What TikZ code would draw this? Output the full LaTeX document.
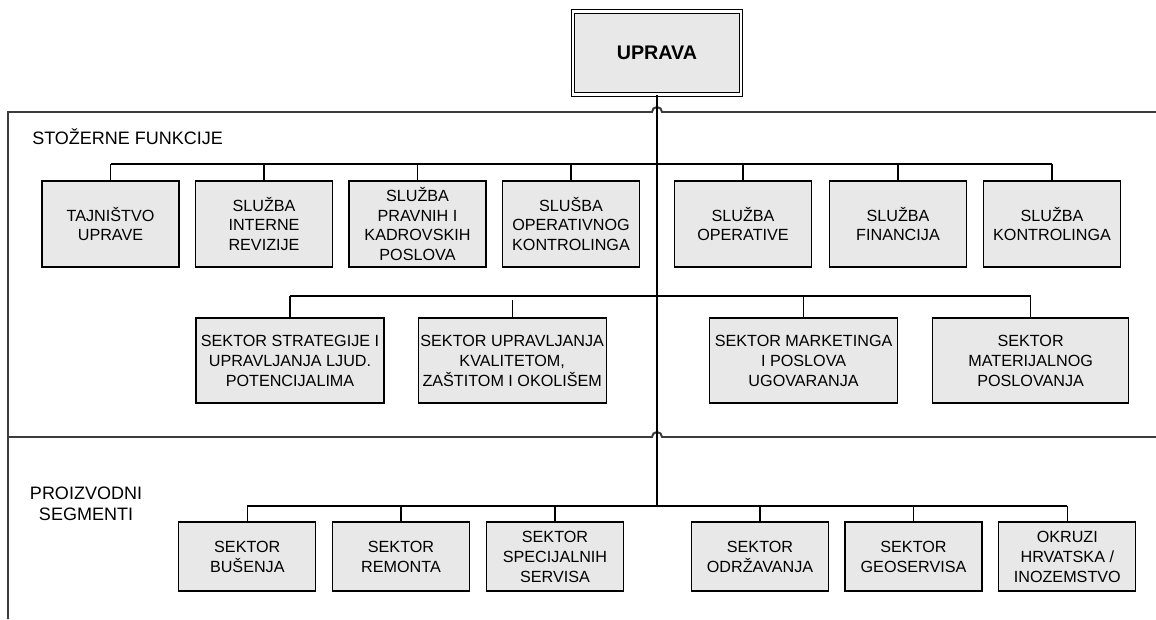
\documentclass[tikz,border=0pt]{standalone}
\usepackage{fontspec}
\setmainfont{Liberation Sans}
\usepackage{tikz}
\usetikzlibrary{positioning}
\definecolor{boxgray}{HTML}{E8E8E8}
\definecolor{linegray}{HTML}{3C3C3C}

\begin{document}
\begin{tikzpicture}[x=0.025cm, y=0.025cm,
  dept/.style={rectangle, draw=black, line width=0.8pt, fill=boxgray,
               minimum width=3.425cm, minimum height=2.15cm, align=center,
               inner sep=1pt, font=\fontsize{11.5pt}{14.2pt}\selectfont},
  sectorbox/.style={dept, minimum width=4.7cm, minimum height=2.125cm},
  plantbox/.style={dept, minimum height=1.725cm},
  link/.style={line width=0.9pt, black},
  divider/.style={line width=1.4pt, linegray},
  heading/.style={inner sep=0pt, align=center,
                  font=\fontsize{12.8pt}{14.8pt}\selectfont}
]
  \useasboundingbox (0,0) rectangle (1156,-619);

  \node[dept, double, double distance=1.6pt, line width=0.9pt,
        minimum width=4.2cm, minimum height=2.075cm,
        font=\fontsize{14pt}{16pt}\selectfont\bfseries] (uprava) at (657,-53) {UPRAVA};

  % section dividers, hopping over the trunk
  \draw[divider] (8,-619) -- (8,-112) -- (652,-112)
    arc[start angle=180, end angle=0, radius=0.125cm] -- (1156,-112);
  \draw[divider] (8,-437) -- (652,-437)
    arc[start angle=180, end angle=0, radius=0.125cm] -- (1156,-437);

  \node[heading, anchor=base west] (stozerne) at (32,-144) {STOŽERNE FUNKCIJE};
  \node[heading] (proizvodni) at (86,-504) {PROIZVODNI\\SEGMENTI};

  % staff services
  \node[dept] (tajnistvo) at (110.5,-224) {TAJNIŠTVO\\UPRAVE};
  \node[dept] (revizija)  at (264,-224)   {SLUŽBA\\INTERNE\\REVIZIJE};
  \node[dept] (pravni)    at (417.5,-224) {SLUŽBA\\PRAVNIH I\\KADROVSKIH\\POSLOVA};
  \node[dept] (opkontr)   at (571,-224)   {SLUŠBA\\OPERATIVNOG\\KONTROLINGA};
  \node[dept] (operativa) at (743,-224)   {SLUŽBA\\OPERATIVE};
  \node[dept] (financije) at (898,-224)   {SLUŽBA\\FINANCIJA};
  \node[dept] (kontroling) at (1052,-224) {SLUŽBA\\KONTROLINGA};

  % staff sectors
  \node[sectorbox] (strategija) at (290,-360.5)    {SEKTOR STRATEGIJE I\\UPRAVLJANJA LJUD.\\POTENCIJALIMA};
  \node[sectorbox] (kvaliteta)  at (512.2,-360.5)  {SEKTOR UPRAVLJANJA\\KVALITETOM,\\ZAŠTITOM I OKOLIŠEM};
  \node[sectorbox] (marketing)  at (803.6,-360.5)  {SEKTOR MARKETINGA\\I POSLOVA\\UGOVARANJA};
  \node[sectorbox, minimum width=4.9cm] (materijal) at (1030.6,-360.5) {SEKTOR\\MATERIJALNOG\\POSLOVANJA};

  % production segments
  \node[plantbox] (busenje)   at (247.3,-556.5)  {SEKTOR\\BUŠENJA};
  \node[plantbox] (remont)    at (401,-556.5)    {SEKTOR\\REMONTA};
  \node[plantbox] (servisi)   at (555,-556.5)    {SEKTOR\\SPECIJALNIH\\SERVISA};
  \node[plantbox] (odrzavanje) at (760,-556.5)   {SEKTOR\\ODRŽAVANJA};
  \node[plantbox] (geoservis) at (913.5,-556.5)  {SEKTOR\\GEOSERVISA};
  \node[plantbox] (okruzi)    at (1067.3,-556.5) {OKRUZI\\HRVATSKA /\\INOZEMSTVO};

  \coordinate (busA) at (657,-164);
  \coordinate (busB) at (657,-296);
  \coordinate (busC) at (657,-506);

  \draw[link] (uprava.south) -- (busC);

  \draw[link] (tajnistvo.north |- busA) -- (kontroling.north |- busA);
  \foreach \n in {tajnistvo,revizija,pravni,opkontr,operativa,financije,kontroling}
    \draw[link] (\n.north) -- (\n.north |- busA);

  \draw[link] (strategija.north |- busB) -- (materijal.north |- busB);
  \foreach \n in {strategija,marketing,materijal}
    \draw[link] (\n.north) -- (\n.north |- busB);
  \draw[link] (kvaliteta.north) -- ++(0,17);

  \draw[link] (busenje.north |- busC) -- (okruzi.north |- busC);
  \foreach \n in {busenje,remont,servisi,odrzavanje,geoservis,okruzi}
    \draw[link] (\n.north) -- (\n.north |- busC);
\end{tikzpicture}
\end{document}
